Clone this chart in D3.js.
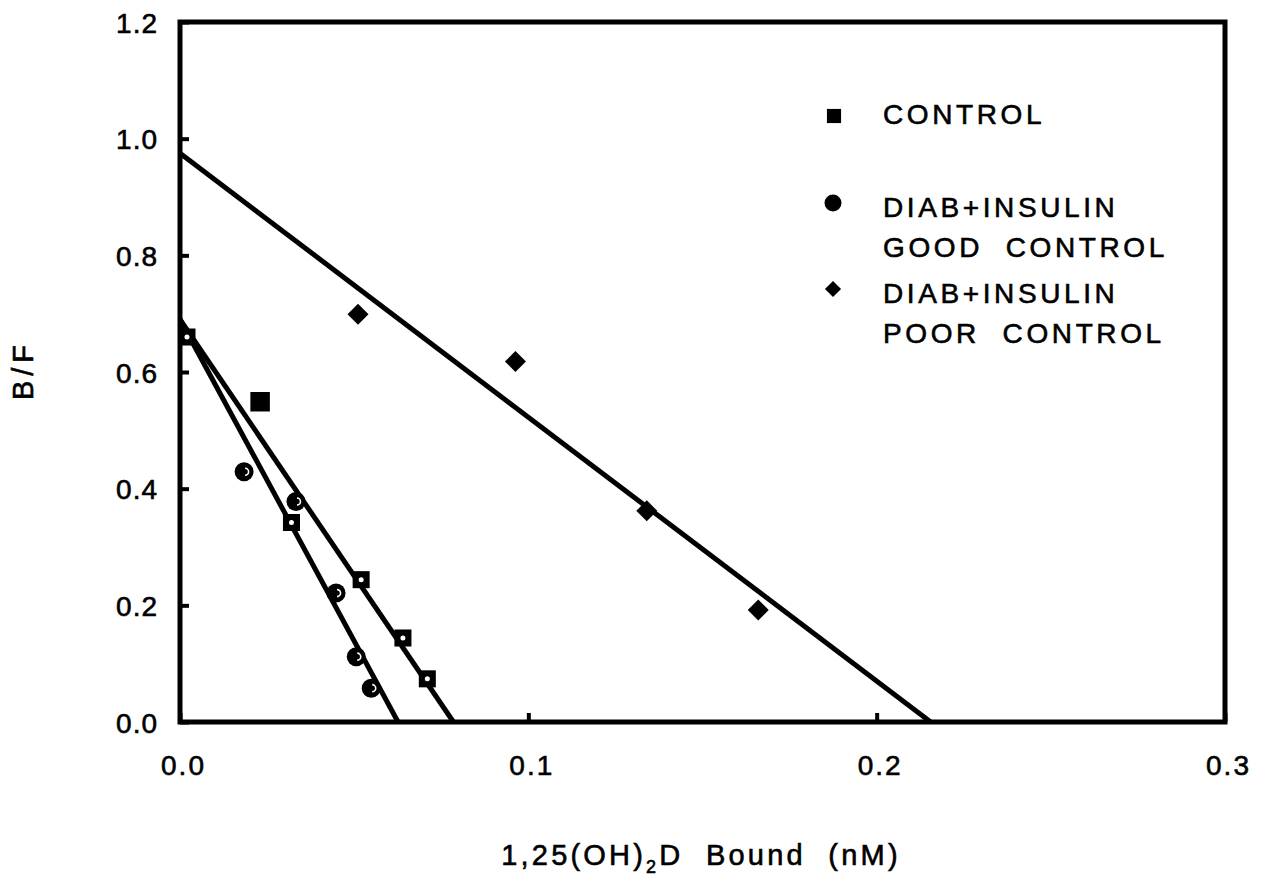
<!DOCTYPE html>
<html><head><meta charset="utf-8">
<script src="https://cdn.jsdelivr.net/npm/d3@7"></script>
<style>
body{margin:0;background:#fff;}
text{font-family:"Liberation Sans",Arial,sans-serif;fill:#000;}
</style></head>
<body><svg id="c" width="1267" height="880"></svg>
<script>
// ---- data ----
const xTicks = [0.0, 0.1, 0.2, 0.3];
const yTicks = [0.0, 0.2, 0.4, 0.6, 0.8, 1.0, 1.2];
const seriesNames = ["CONTROL", "DIAB+INSULIN GOOD CONTROL", "DIAB+INSULIN POOR CONTROL"];
const controlX = [0.002, 0.023, 0.032, 0.052, 0.064, 0.071];
const controlY = [0.66, 0.549, 0.342, 0.244, 0.144, 0.074];
const goodX = [0.0184, 0.0333, 0.0448, 0.0506, 0.0549];
const goodY = [0.429, 0.378, 0.221, 0.112, 0.058];
const poorX = [0.0511, 0.0963, 0.134, 0.166];
const poorY = [0.699, 0.618, 0.362, 0.192];
// fitted lines: [B/F at x=0, x-intercept]
const controlFit = [0.69, 0.0785];
const goodFit = [0.69, 0.0626];
const poorFit = [0.975, 0.2155];

const svg = d3.select("#c");
const x = d3.scaleLinear().domain([0, 0.3]).range([180, 1225]);
const y = d3.scaleLinear().domain([0, 1.2]).range([722, 22]);

// axes
const fmt = d3.format(".1f");
const yAx = svg.append("g").attr("transform", `translate(${x(0)},0)`)
  .call(d3.axisLeft(y).tickValues(yTicks).tickFormat(fmt).tickSizeInner(-9).tickSizeOuter(0).tickPadding(22));
const xAx = svg.append("g").attr("transform", `translate(0,${y(0)})`)
  .call(d3.axisBottom(x).tickValues(xTicks).tickFormat(fmt).tickSizeInner(-9).tickSizeOuter(0).tickPadding(33));
[yAx, xAx].forEach(g => {
  g.select(".domain").remove();
  g.selectAll(".tick line").attr("stroke", "#000").attr("stroke-width", 4);
  g.selectAll(".tick text").attr("font-size", 28).attr("font-family", "Liberation Sans, Arial, sans-serif")
    .attr("fill", "#000").attr("stroke", "#000").attr("stroke-width", 0.6);
});
yAx.selectAll(".tick text").attr("dy", "0.36em").attr("letter-spacing", 1);
xAx.selectAll(".tick text").attr("dx", 3).attr("letter-spacing", 2);

// frame
svg.append("rect").attr("x", x(0)).attr("y", y(1.2))
  .attr("width", x(0.3) - x(0)).attr("height", y(0) - y(1.2))
  .attr("fill", "none").attr("stroke", "#000").attr("stroke-width", 5);

// fit lines
const line = d3.line().x(d => x(d[0])).y(d => y(d[1]));
[controlFit, goodFit, poorFit].forEach(f => {
  svg.append("path").attr("d", line([[0, f[0]], [f[1], 0]]))
    .attr("fill", "none").attr("stroke", "#000").attr("stroke-width", 5);
});

// markers
controlX.forEach((v, i) => {
  const g = svg.append("g").attr("transform", `translate(${x(v)},${y(controlY[i])})`);
  g.append("path").attr("d", d3.symbol().type(d3.symbolSquare).size(i === 1 ? 380 : 290)()).attr("fill", "#000");
  if (i !== 1) g.append("circle").attr("r", 2.5).attr("fill", "#fff");
});
goodX.forEach((v, i) => {
  const g = svg.append("g").attr("transform", `translate(${x(v)},${y(goodY[i])})`);
  g.append("circle").attr("r", 9.5).attr("fill", "#000");
  g.append("path").attr("d", "M1,-3.5 A3.5,3.5 0 0,1 1,3.5").attr("fill", "none").attr("stroke", "#fff").attr("stroke-width", 1.6);
});
poorX.forEach((v, i) => {
  svg.append("path").attr("transform", `translate(${x(v)},${y(poorY[i])}) rotate(45)`)
    .attr("d", d3.symbol().type(d3.symbolSquare).size(220)()).attr("fill", "#000");
});

// legend
const lg = svg.append("g");
lg.append("path").attr("transform", "translate(834,116)").attr("d", d3.symbol().type(d3.symbolSquare).size(200)()).attr("fill", "#000");
lg.append("circle").attr("cx", 833).attr("cy", 203).attr("r", 8.5).attr("fill", "#000");
lg.append("path").attr("transform", "translate(833,289) rotate(45)").attr("d", d3.symbol().type(d3.symbolSquare).size(130)()).attr("fill", "#000");
const legLines = [
  [seriesNames[0], 124],
  ["DIAB+INSULIN", 217],
  ["GOOD\u00a0\u00a0CONTROL", 257],
  ["DIAB+INSULIN", 303],
  ["POOR\u00a0\u00a0CONTROL", 343]
];
legLines.forEach(([t, by]) => {
  lg.append("text").attr("x", 883).attr("y", by).attr("font-size", 28).attr("letter-spacing", 3.6)
    .attr("stroke", "#000").attr("stroke-width", 0.6).text(t);
});

// axis titles
const xt = svg.append("text").attr("x", 701).attr("y", 865).attr("text-anchor", "middle")
  .attr("font-size", 29).attr("letter-spacing", 3.2).attr("stroke", "#000").attr("stroke-width", 0.6);
xt.append("tspan").text("1,25(OH)");
xt.append("tspan").attr("font-size", 18).attr("dy", 8).text("2");
xt.append("tspan").attr("dy", -8).text("D\u00a0\u00a0Bound\u00a0\u00a0(nM)");

svg.append("text").attr("transform", "translate(33,370) rotate(-90)").attr("text-anchor", "middle")
  .attr("font-size", 29).attr("letter-spacing", 5).attr("stroke", "#000").attr("stroke-width", 0.6).text("B/F");
</script></body></html>
